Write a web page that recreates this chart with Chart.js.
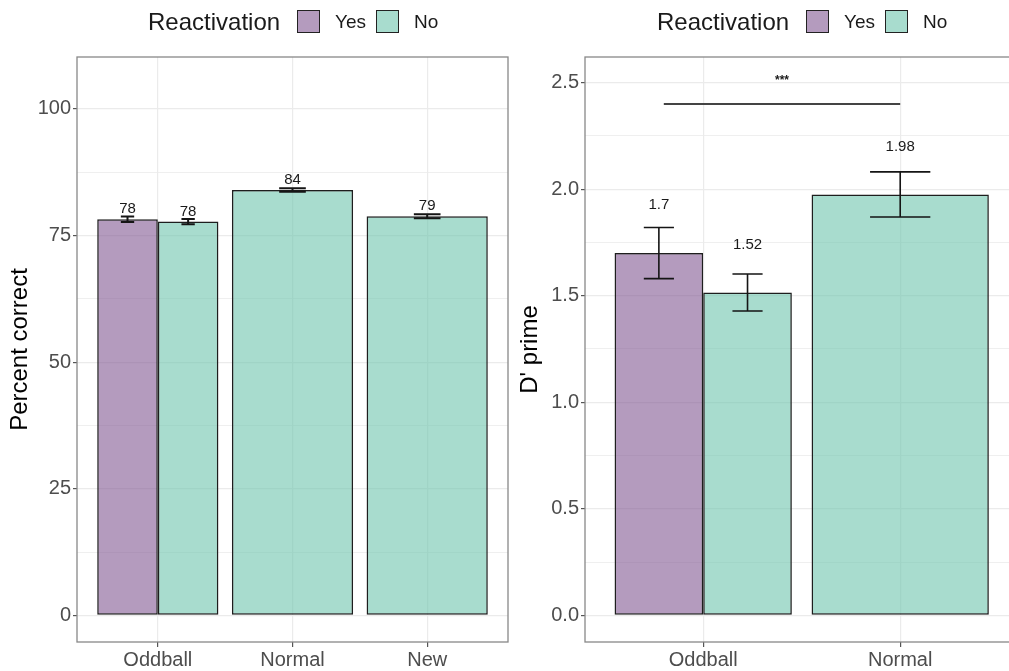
<!DOCTYPE html>
<html>
<head>
<meta charset="utf-8">
<script src="https://cdn.jsdelivr.net/npm/chart.js@4.4.0/dist/chart.umd.min.js"></script>
<style>
  body { margin: 0; width: 1009px; height: 671px; overflow: hidden; background: #fff; position: relative;
         font-family: "Liberation Sans", Arial, sans-serif; }
  .panel { position: absolute; top: 0; height: 671px; }
  #wrapA { left: 0; width: 510px; }
  #wrapB { left: 510px; width: 520px; }
  .legend { position: absolute; top: 10px; height: 23px; display: flex; align-items: center; color: #1a1a1a; font-size: 19px; }
  .legend .ttl { font-size: 24px; margin-right: 17px; }
  .legend .box { width: 23px; height: 23px; box-sizing: border-box; border: 1.5px solid #222; }
  .legend .lab { margin: 0 10px 0 15px; }
</style>
</head>
<body>
<div class="panel" id="wrapA"><canvas id="chartA" width="510" height="671"></canvas></div>
<div class="panel" id="wrapB"><canvas id="chartB" width="520" height="671"></canvas></div>

<div class="legend" style="left:148px">
  <span class="ttl">Reactivation</span>
  <span class="box" style="background:rgba(130,88,147,0.6)"></span><span class="lab">Yes</span>
  <span class="box" style="background:rgba(110,197,173,0.6)"></span><span class="lab">No</span>
</div>
<div class="legend" style="left:657px">
  <span class="ttl">Reactivation</span>
  <span class="box" style="background:rgba(130,88,147,0.6)"></span><span class="lab">Yes</span>
  <span class="box" style="background:rgba(110,197,173,0.6)"></span><span class="lab">No</span>
</div>

<script>
// left panel: percent correct
const categoriesA = ['Oddball', 'Normal', 'New'];
const yesA = [78.2, null, null];
const noA = [77.75, 84.0, 78.8];
const yesErrA = [0.55, null, null];
const noErrA = [0.5, 0.35, 0.4];

// right panel: d prime
const categoriesB = ['Oddball', 'Normal'];
const yesB = [1.70, null];
const noB = [1.515, 1.975];
const yesErrB = [0.12, null];
const noErrB = [0.087, 0.106];

const YES_COLOR = 'rgba(130,88,147,0.6)';
const NO_COLOR = 'rgba(110,197,173,0.6)';
const GRID = '#ebebeb';

// error bars + value labels
const errorBars = {
    id: 'errorBars',
    afterDatasetsDraw(chart, args, opts) {
        const ctx = chart.ctx;
        const ys = chart.scales.y;
        chart.data.datasets.forEach((ds, di) => {
            const meta = chart.getDatasetMeta(di);
            ds.data.forEach((p, i) => {
                if (p.y == null) return;
                const el = meta.data[i];
                const e = ds.errors[i];
                const top = ys.getPixelForValue(p.y + e);
                const bot = ys.getPixelForValue(p.y - e);
                const half = el.width * opts.cap / 2;
                ctx.save();
                ctx.strokeStyle = '#151515';
                ctx.lineWidth = opts.lw;
                ctx.beginPath();
                ctx.moveTo(el.x, top); ctx.lineTo(el.x, bot);
                ctx.moveTo(el.x - half, top); ctx.lineTo(el.x + half, top);
                ctx.moveTo(el.x - half, bot); ctx.lineTo(el.x + half, bot);
                ctx.stroke();
                ctx.fillStyle = '#1a1a1a';
                ctx.font = '15px "Liberation Sans", Arial, sans-serif';
                ctx.textAlign = 'center';
                ctx.textBaseline = 'middle';
                const txt = String(Math.round(p.y * opts.round) / opts.round);
                ctx.fillText(txt, el.x, ys.getPixelForValue(p.y + opts.labelOffset));
                ctx.restore();
            });
        });
    }
};

const panelBorder = {
    id: 'panelBorder',
    afterDraw(chart) {
        const a = chart.chartArea;
        const ctx = chart.ctx;
        ctx.save();
        ctx.strokeStyle = '#888';
        ctx.lineWidth = 1.3;
        ctx.strokeRect(a.left, a.top, a.right - a.left, a.bottom - a.top);
        ctx.restore();
    }
};

const sigBracket = {
    id: 'sigBracket',
    afterDatasetsDraw(chart, args, opts) {
        if (!opts.show) return;
        const ctx = chart.ctx;
        const xs = chart.scales.x, ys = chart.scales.y;
        const y = ys.getPixelForValue(opts.y);
        ctx.save();
        ctx.strokeStyle = '#444';
        ctx.lineWidth = 2;
        ctx.beginPath();
        ctx.moveTo(xs.getPixelForValue(opts.from), y);
        ctx.lineTo(xs.getPixelForValue(opts.to), y);
        ctx.stroke();
        ctx.fillStyle = '#1a1a1a';
        ctx.font = 'bold 12px "Liberation Sans", Arial, sans-serif';
        ctx.textAlign = 'center';
        ctx.textBaseline = 'middle';
        ctx.fillText(opts.text, xs.getPixelForValue((opts.from + opts.to) / 2), ys.getPixelForValue(opts.textY));
        ctx.restore();
    }
};

function makeChart(id, cats, yes, no, yesErr, noErr, o) {
    const pts = arr => arr.map((v, i) => ({x: i + 1, y: v}));
    const isMajor = v => Math.abs(v / o.major - Math.round(v / o.major)) < 1e-6;
    return new Chart(document.getElementById(id), {
        type: 'bar',
        data: {
            datasets: [
                {label: 'Yes', data: pts(yes), errors: yesErr, backgroundColor: YES_COLOR,
                 borderColor: '#1e1e1e', borderWidth: 1.5, borderSkipped: false},
                {label: 'No', data: pts(no), errors: noErr, backgroundColor: NO_COLOR,
                 borderColor: '#1e1e1e', borderWidth: 1.5, borderSkipped: false}
            ]
        },
        options: {
            responsive: false,
            animation: false,
            skipNull: true,
            categoryPercentage: 0.9,
            barPercentage: 1,
            layout: {padding: {top: 57, right: o.padRight, left: 0, bottom: 0}},
            scales: {
                x: {
                    type: 'linear',
                    offset: false,
                    min: 0.4, max: cats.length + 0.6,
                    afterBuildTicks: s => { s.ticks = cats.map((c, i) => ({value: i + 1})); },
                    ticks: {callback: v => cats[v - 1], color: '#4d4d4d', font: {size: 20}, padding: 1,
                            autoSkip: false, maxRotation: 0},
                    grid: {offset: false, color: GRID, lineWidth: 1.2, tickLength: 5, tickColor: '#555'},
                    border: {display: false},
                    afterFit: s => { s.height = 29; }
                },
                y: {
                    min: o.min, max: o.max,
                    ticks: {stepSize: o.major / 2, includeBounds: false, color: '#4d4d4d', font: {size: 20}, padding: 2,
                            callback: v => isMajor(v) ? v.toFixed(o.dec) : ''},
                    grid: {color: GRID, tickLength: 4,
                           lineWidth: c => isMajor(c.tick.value) ? 1.2 : 0.8,
                           tickColor: c => isMajor(c.tick.value) ? '#555' : 'rgba(0,0,0,0)'},
                    border: {display: false},
                    title: {display: true, text: o.title, color: '#000', font: {size: 24}, padding: {top: 6, bottom: 0}},
                    afterFit: s => { s.width = o.axisW; }
                }
            },
            plugins: {
                legend: {display: false},
                tooltip: {enabled: false},
                errorBars: {cap: o.cap, lw: o.lw, labelOffset: o.labelOffset, round: o.round},
                sigBracket: o.sig
            }
        },
        plugins: [errorBars, sigBracket, panelBorder]
    });
}

makeChart('chartA', categoriesA, yesA, noA, yesErrA, noErrA, {
    min: -5.25, max: 110.25, major: 25, dec: 0, title: 'Percent correct',
    axisW: 77, padRight: 2, cap: 0.22, lw: 2, labelOffset: 2.0, round: 1,
    sig: {show: false}
});

makeChart('chartB', categoriesB, yesB, noB, yesErrB, noErrB, {
    min: -0.125, max: 2.62, major: 0.5, dec: 1, title: "D' prime",
    axisW: 75, padRight: 11.6, cap: 0.34, lw: 1.6, labelOffset: 0.225, round: 100,
    sig: {show: true, from: 0.8, to: 2, y: 2.4, textY: 2.51, text: '***'}
});
</script>
</body>
</html>
